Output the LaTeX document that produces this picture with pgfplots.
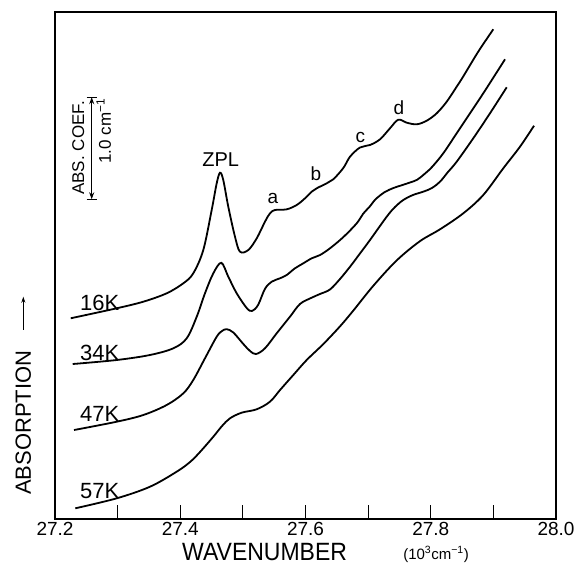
\documentclass[border=0pt]{standalone}
\usepackage{pgfplots}
\pgfplotsset{compat=1.18}
\usetikzlibrary{arrows.meta}
\usepackage{fontspec}
\setmainfont{Liberation Sans}
\newcommand{\fs}[1]{\fontsize{#1}{#1}\selectfont}
\pgfplotsset{spec/.style={line width=1.8pt, black, smooth, tension=0.55, mark=none}}
\begin{document}
\begin{tikzpicture}
\begin{axis}[
  scale only axis, width=501pt, height=507pt,
  xmin=27.2, xmax=28.0, ymin=0, ymax=10,
  axis line style={line width=1.3pt},
  xtick={27.2,27.4,27.6,27.8,28.0},
  xticklabels={27.2,27.4,27.6,27.8,28.0},
  minor xtick={27.3,27.5,27.7,27.9},
  ytick=\empty,
  xtick pos=left, tick align=inside,
  major tick length=14pt, minor tick length=14pt,
  every tick/.style={line width=1.2pt, black},
  xticklabel style={font=\fs{19}, inner sep=1pt, yshift=-2pt},
  clip=false,
]
% 16 K
\addplot[spec] coordinates {(27.2251,3.959) (27.2985,4.156) (27.3410,4.286) (27.3784,4.452) (27.4049,4.649) (27.4208,4.846) (27.4368,5.306) (27.4502,6.095) (27.4582,6.621) (27.4635,6.830) (27.4687,6.686) (27.4767,6.160) (27.4874,5.568) (27.4954,5.272) (27.5087,5.306) (27.5221,5.536) (27.5353,5.864) (27.5433,6.030) (27.5513,6.095) (27.5700,6.108) (27.5859,6.193) (27.5992,6.325) (27.6099,6.456) (27.6179,6.523) (27.6339,6.621) (27.6444,6.700) (27.6604,6.923) (27.6711,7.146) (27.6870,7.327) (27.7030,7.377) (27.7190,7.489) (27.7349,7.706) (27.7482,7.876) (27.7616,7.817) (27.7776,7.785) (27.7935,7.856) (27.8095,8.002) (27.8255,8.231) (27.8414,8.527) (27.8520,8.731) (27.8755,9.211) (27.8999,9.659)};
% 34 K
\addplot[spec] coordinates {(27.2283,3.057) (27.2985,3.136) (27.3517,3.235) (27.3889,3.367) (27.4103,3.564) (27.4263,3.990) (27.4395,4.452) (27.4528,4.846) (27.4656,5.053) (27.4767,4.779) (27.4901,4.452) (27.5061,4.162) (27.5146,4.103) (27.5242,4.220) (27.5353,4.540) (27.5460,4.680) (27.5593,4.748) (27.5700,4.813) (27.5832,4.945) (27.5965,5.043) (27.6099,5.142) (27.6232,5.207) (27.6391,5.339) (27.6604,5.560) (27.6818,5.832) (27.6918,6.016) (27.7038,6.180) (27.7113,6.300) (27.7260,6.444) (27.7405,6.529) (27.7550,6.588) (27.7669,6.637) (27.7784,6.692) (27.7900,6.805) (27.8020,6.943) (27.8200,7.213) (27.8414,7.608) (27.8627,8.002) (27.8839,8.397) (27.9026,8.757) (27.9186,9.067)};
% 47 K
\addplot[spec] coordinates {(27.2303,1.755) (27.2985,1.919) (27.3410,2.051) (27.3784,2.249) (27.4049,2.479) (27.4208,2.742) (27.4395,3.170) (27.4582,3.596) (27.4667,3.708) (27.4742,3.744) (27.4847,3.679) (27.5007,3.452) (27.5114,3.314) (27.5210,3.254) (27.5353,3.367) (27.5540,3.663) (27.5752,3.990) (27.5912,4.241) (27.6088,4.359) (27.6232,4.438) (27.6391,4.527) (27.6551,4.734) (27.6711,4.976) (27.6870,5.237) (27.7030,5.503) (27.7297,5.963) (27.7429,6.154) (27.7562,6.292) (27.7717,6.391) (27.7881,6.456) (27.8020,6.529) (27.8148,6.653) (27.8275,6.844) (27.8414,7.047) (27.8679,7.509) (27.8946,8.002) (27.9213,8.515)};
% 57 K
\addplot[spec] coordinates {(27.2324,0.211) (27.2985,0.408) (27.3517,0.637) (27.3943,0.933) (27.4156,1.124) (27.4315,1.321) (27.4528,1.623) (27.4667,1.834) (27.4794,1.986) (27.4981,2.097) (27.5221,2.164) (27.5433,2.314) (27.5593,2.544) (27.5805,2.840) (27.6019,3.136) (27.6284,3.450) (27.6551,3.800) (27.6763,4.110) (27.7083,4.600) (27.7456,5.100) (27.7828,5.480) (27.8148,5.714) (27.8520,6.030) (27.8839,6.391) (27.9158,6.917) (27.9425,7.343) (27.9649,7.757)};

% curve labels
\node[anchor=base west, inner sep=0pt, font=\fs{22}] at (axis cs:27.2399,4.122) {16K};
\node[anchor=base west, inner sep=0pt, font=\fs{22}] at (axis cs:27.2399,3.136) {34K};
\node[anchor=base west, inner sep=0pt, font=\fs{22}] at (axis cs:27.2399,1.919) {47K};
\node[anchor=base west, inner sep=0pt, font=\fs{22}] at (axis cs:27.2399,0.408) {57K};
\node[anchor=base, inner sep=0pt, font=\fs{20}] at (axis cs:27.4647,6.949) {ZPL};
\node[anchor=base, inner sep=0pt, font=\fs{19}] at (axis cs:27.5478,6.227) {a};
\node[anchor=base, inner sep=0pt, font=\fs{19}] at (axis cs:27.6165,6.686) {b};
\node[anchor=base, inner sep=0pt, font=\fs{19}] at (axis cs:27.6878,7.422) {c};
\node[anchor=base, inner sep=0pt, font=\fs{19}] at (axis cs:27.7493,7.982) {d};

% scale bar
\draw[line width=1.1pt, {Stealth[length=7pt,width=5pt]}-{Stealth[length=7pt,width=5pt]}] (axis cs:27.2586,6.306) -- (axis cs:27.2586,8.320);
\draw[line width=1.1pt] ([xshift=-5pt]axis cs:27.2586,6.306) -- ([xshift=5pt]axis cs:27.2586,6.306);
\draw[line width=1.1pt] ([xshift=-5pt]axis cs:27.2586,8.320) -- ([xshift=5pt]axis cs:27.2586,8.320);
\node[rotate=90, anchor=east, inner sep=0pt, font=\fs{17}] at (axis cs:27.2372,8.245) {ABS. COEF.};
\node[rotate=90, anchor=east, inner sep=0pt, font=\fs{17}] at (axis cs:27.2780,8.30) {1.0 cm\textsuperscript{−1}};

% axis labels
\node[rotate=90, anchor=west, inner sep=0pt, font=\fs{22}] at (axis cs:27.1494,0.473) {ABSORPTION};
\draw[line width=1pt, -{Stealth[length=6pt,width=4pt]}] (axis cs:27.1494,3.728) -- (axis cs:27.1494,4.385);
\node[anchor=base, inner sep=0pt, font=\fs{25}] at (axis cs:27.5347,-0.828) {\scalebox{0.92}[1]{WAVENUMBER}};
\node[anchor=base, inner sep=0pt, font=\fs{15}] at (axis cs:27.8084,-0.789) {(10\textsuperscript{3}cm\textsuperscript{−1})};
\end{axis}
\pgfresetboundingbox
\path ([shift={(-55pt,-46pt)}]current axis.south west) rectangle ([shift={(18pt,12pt)}]current axis.north east);
\end{tikzpicture}
\end{document}
